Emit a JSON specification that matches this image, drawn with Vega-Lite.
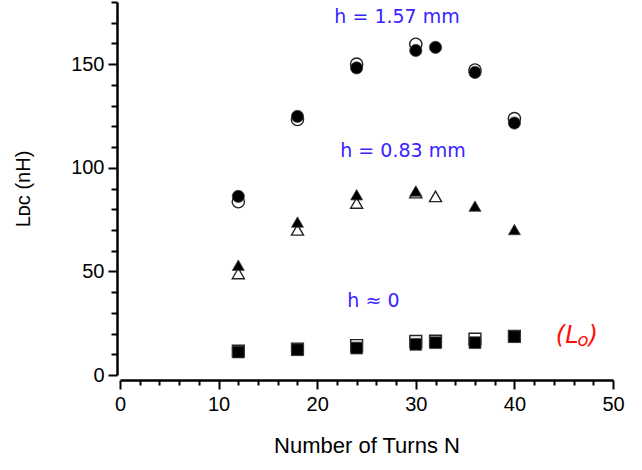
{
  "$schema": "https://vega.github.io/schema/vega-lite/v6.json",
  "width": 493,
  "height": 373,
  "autosize": "none",
  "padding": {"left": 120, "top": 2, "right": 29, "bottom": 95},
  "background": "white",
  "config": {"view": {"stroke": null}, "font": "Liberation Sans"},
  "datasets": {
    "points": [
      {"N": 12, "L": 83.6, "series": "h = 1.57 mm", "type": "open"},
      {"N": 18, "L": 123.3, "series": "h = 1.57 mm", "type": "open"},
      {"N": 24, "L": 150.0, "series": "h = 1.57 mm", "type": "open"},
      {"N": 30, "L": 159.6, "series": "h = 1.57 mm", "type": "open"},
      {"N": 36, "L": 147.2, "series": "h = 1.57 mm", "type": "open"},
      {"N": 40, "L": 123.7, "series": "h = 1.57 mm", "type": "open"},
      {"N": 12, "L": 49.0, "series": "h = 0.83 mm", "type": "open"},
      {"N": 18, "L": 70.0, "series": "h = 0.83 mm", "type": "open"},
      {"N": 24, "L": 83.0, "series": "h = 0.83 mm", "type": "open"},
      {"N": 30, "L": 88.0, "series": "h = 0.83 mm", "type": "open"},
      {"N": 32, "L": 86.2, "series": "h = 0.83 mm", "type": "open"},
      {"N": 12, "L": 11.5, "series": "h = 0", "type": "open"},
      {"N": 18, "L": 12.5, "series": "h = 0", "type": "open"},
      {"N": 24, "L": 14.2, "series": "h = 0", "type": "open"},
      {"N": 30, "L": 16.2, "series": "h = 0", "type": "open"},
      {"N": 32, "L": 16.3, "series": "h = 0", "type": "open"},
      {"N": 36, "L": 17.3, "series": "h = 0", "type": "open"},
      {"N": 40, "L": 18.7, "series": "h = 0", "type": "open"},
      {"N": 12, "L": 86.2, "series": "h = 1.57 mm", "type": "filled"},
      {"N": 18, "L": 124.8, "series": "h = 1.57 mm", "type": "filled"},
      {"N": 24, "L": 148.2, "series": "h = 1.57 mm", "type": "filled"},
      {"N": 30, "L": 156.6, "series": "h = 1.57 mm", "type": "filled"},
      {"N": 32, "L": 158.1, "series": "h = 1.57 mm", "type": "filled"},
      {"N": 36, "L": 146.0, "series": "h = 1.57 mm", "type": "filled"},
      {"N": 40, "L": 121.6, "series": "h = 1.57 mm", "type": "filled"},
      {"N": 12, "L": 53.0, "series": "h = 0.83 mm", "type": "filled"},
      {"N": 18, "L": 73.8, "series": "h = 0.83 mm", "type": "filled"},
      {"N": 24, "L": 87.0, "series": "h = 0.83 mm", "type": "filled"},
      {"N": 30, "L": 88.8, "series": "h = 0.83 mm", "type": "filled"},
      {"N": 36, "L": 81.5, "series": "h = 0.83 mm", "type": "filled"},
      {"N": 40, "L": 70.2, "series": "h = 0.83 mm", "type": "filled"},
      {"N": 12, "L": 11.1, "series": "h = 0", "type": "filled"},
      {"N": 18, "L": 12.2, "series": "h = 0", "type": "filled"},
      {"N": 24, "L": 13.0, "series": "h = 0", "type": "filled"},
      {"N": 30, "L": 14.8, "series": "h = 0", "type": "filled"},
      {"N": 32, "L": 15.6, "series": "h = 0", "type": "filled"},
      {"N": 36, "L": 15.6, "series": "h = 0", "type": "filled"},
      {"N": 40, "L": 18.5, "series": "h = 0", "type": "filled"}
    ],
    "labels": [
      {"N": 28.1, "L": 173.0, "text": "h = 1.57 mm"},
      {"N": 28.7, "L": 108.3, "text": "h = 0.83 mm"},
      {"N": 25.7, "L": 35.9, "text": "h ≈ 0"}
    ],
    "note": [
      {"N": 46.3, "L": 19.0, "main": "(L", "sub": "o", "close": ")"}
    ]
  },
  "encoding": {
    "x": {
      "field": "N",
      "type": "quantitative",
      "scale": {"domain": [0, 50], "nice": false, "zero": false},
      "axis": {
        "values": [0, 2, 4, 6, 8, 10, 12, 14, 16, 18, 20, 22, 24, 26, 28, 30, 32, 34, 36, 38, 40, 42, 44, 46, 48, 50],
        "labelExpr": "datum.value % 10 === 0 ? datum.label : ''",
        "tickSize": {"condition": {"test": "datum.value % 10 === 0", "value": 9}, "value": 5},
        "tickWidth": 2,
        "tickColor": "black",
        "domainColor": "black",
        "domainWidth": 2.5,
        "grid": false,
        "offset": 5,
        "labelFontSize": 20,
        "labelColor": "black",
        "labelPadding": 5,
        "labelFlush": false,
        "labelOverlap": false,
        "title": "Number of Turns N",
        "titleFontSize": 22,
        "titleFontWeight": "normal",
        "titleColor": "black",
        "titlePadding": 21
      }
    },
    "y": {
      "field": "L",
      "type": "quantitative",
      "scale": {"domain": [0, 180], "nice": false, "zero": false},
      "axis": {
        "values": [0, 10, 20, 30, 40, 50, 60, 70, 80, 90, 100, 110, 120, 130, 140, 150, 160, 170, 180],
        "labelExpr": "datum.value % 50 === 0 ? datum.label : ''",
        "tickSize": {"condition": {"test": "datum.value % 50 === 0", "value": 9}, "value": 6},
        "tickWidth": 2,
        "tickColor": "black",
        "domainColor": "black",
        "domainWidth": 2.5,
        "grid": false,
        "offset": 3,
        "labelFontSize": 20,
        "labelColor": "black",
        "labelPadding": 4,
        "labelFlush": false,
        "labelOverlap": false,
        "title": "Lᴅᴄ (nH)",
        "titleFontSize": 20,
        "titleFontWeight": "normal",
        "titleColor": "black",
        "titlePadding": 37
      }
    }
  },
  "layer": [
    {
      "data": {"name": "points"},
      "transform": [{"filter": "datum.type === 'open'"}],
      "mark": {"type": "point", "filled": true, "fill": "white", "stroke": "#222", "strokeWidth": 1.4, "opacity": 1},
      "encoding": {
        "shape": {"field": "series", "type": "nominal", "scale": {"domain": ["h = 1.57 mm", "h = 0.83 mm", "h = 0"], "range": ["circle", "triangle-up", "square"]}, "legend": null},
        "size": {"field": "series", "type": "nominal", "scale": {"domain": ["h = 1.57 mm", "h = 0.83 mm", "h = 0"], "range": [150, 140, 175]}, "legend": null}
      }
    },
    {
      "data": {"name": "points"},
      "transform": [{"filter": "datum.type === 'filled'"}],
      "mark": {"type": "point", "filled": true, "fill": "black", "stroke": "#444", "strokeWidth": 0.8, "opacity": 1},
      "encoding": {
        "shape": {"field": "series", "type": "nominal", "legend": null},
        "size": {"field": "series", "type": "nominal", "legend": null}
      }
    },
    {
      "data": {"name": "labels"},
      "mark": {"type": "text", "font": "DejaVu Sans", "fontSize": 19, "color": "#3a24ff", "align": "center", "baseline": "middle"},
      "encoding": {"text": {"field": "text"}}
    },
    {
      "data": {"name": "note"},
      "mark": {"type": "text", "font": "DejaVu Sans", "fontSize": 24, "fontStyle": "italic", "color": "#ff1010", "align": "right", "baseline": "middle", "dx": 2},
      "encoding": {"text": {"field": "main"}}
    },
    {
      "data": {"name": "note"},
      "mark": {"type": "text", "font": "DejaVu Sans", "fontSize": 18, "fontStyle": "italic", "color": "#ff1010", "align": "left", "baseline": "middle", "dx": 1, "dy": 5},
      "encoding": {"text": {"field": "sub"}}
    },
    {
      "data": {"name": "note"},
      "mark": {"type": "text", "font": "DejaVu Sans", "fontSize": 24, "fontStyle": "italic", "color": "#ff1010", "align": "left", "baseline": "middle", "dx": 12},
      "encoding": {"text": {"field": "close"}}
    }
  ]
}
